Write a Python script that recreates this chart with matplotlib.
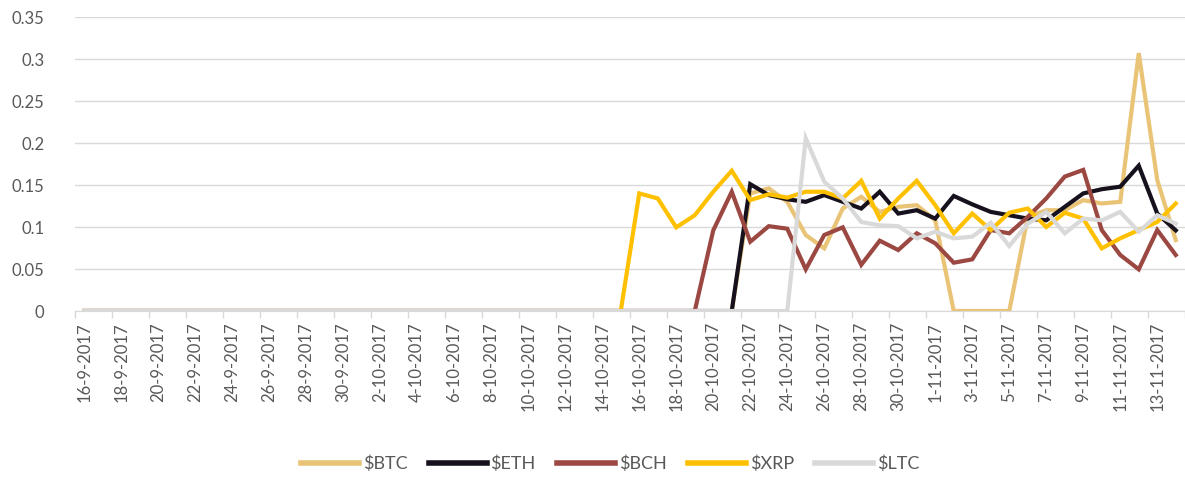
import numpy as np
import pandas as pd
import matplotlib
matplotlib.use("Agg")
from matplotlib import pyplot as plt

plt.rcParams['font.family'] = ['Lato', 'DejaVu Sans']

# daily categories, 16-9-2017 .. 14-11-2017
dates = pd.date_range("2017-09-16", "2017-11-14", freq="D")
labels = [f"{d.day}-{d.month}-{d.year}" for d in dates]

btc = [0] * 36 + [0.140, 0.146, 0.130, 0.0905, 0.0746, 0.122, 0.136, 0.118, 0.124, 0.126,
                  0.108, 0, 0, 0, 0, 0.112, 0.120, 0.120, 0.132, 0.128,
                  0.130, 0.307, 0.156, 0.0845]
eth = [0] * 36 + [0.151, 0.138, 0.133, 0.130, 0.138, 0.130, 0.122, 0.142, 0.116, 0.120,
                  0.110, 0.137, 0.127, 0.118, 0.114, 0.110, 0.108, 0.124, 0.140, 0.145,
                  0.148, 0.173, 0.116, 0.096]
bch = [0] * 34 + [0.096, 0.142, 0.0825, 0.101, 0.098, 0.0496, 0.0905, 0.0996, 0.055, 0.0837,
                  0.0726, 0.0925, 0.0806, 0.0575, 0.0615, 0.0964, 0.0925, 0.112, 0.134, 0.160,
                  0.168, 0.0964, 0.0667, 0.0496, 0.0964, 0.0667]
xrp = [0] * 30 + [0.140, 0.134, 0.0996, 0.114, 0.142, 0.167, 0.132, 0.139, 0.135, 0.142,
                  0.142, 0.134, 0.155, 0.110, 0.134, 0.155, 0.126, 0.0925, 0.116, 0.0964,
                  0.117, 0.122, 0.100, 0.117, 0.110, 0.0746, 0.0865, 0.0964, 0.106, 0.128]
ltc = [0] * 39 + [0.2056, 0.154, 0.134, 0.106, 0.102, 0.101, 0.0865, 0.0944, 0.0865, 0.0885,
                  0.105, 0.0774, 0.104, 0.118, 0.0925, 0.110, 0.108, 0.118, 0.0944, 0.114,
                  0.104]

series = [("$BTC", btc, "#E9C476"),
          ("$ETH", eth, "#16111C"),
          ("$BCH", bch, "#9C4842"),
          ("$XRP", xrp, "#FFC000"),
          ("$LTC", ltc, "#D9D9D9")]

GRID = "#D9D9D9"
TEXT = "#595959"

fig = plt.figure(figsize=(11.85, 4.79), dpi=100)
ax = fig.add_axes([0.0633, 0.3507, 0.9367, 0.6138])

x = np.arange(len(labels))
for name, vals, col in series:
    ax.plot(x, vals, color=col, lw=3, label=name, solid_joinstyle='miter')

ax.set_xlim(-0.5, len(labels) - 0.5)
ax.set_ylim(0, 0.35)
ax.set_yticks(np.arange(0, 0.351, 0.05))
ax.set_yticklabels(["0", "0.05", "0.1", "0.15", "0.2", "0.25", "0.3", "0.35"])
ax.yaxis.grid(True, color=GRID, lw=1)
ax.set_axisbelow(True)

ax.set_xticks(x[::2])
ax.set_xticklabels(labels[::2], rotation=90)
ax.set_xticks(np.arange(-0.5, len(labels), 2), minor=True)
ax.tick_params(axis='x', which='major', length=0, pad=8, labelsize=12, colors=TEXT)
ax.tick_params(axis='x', which='minor', length=5, color=GRID, width=1)
ax.tick_params(axis='y', length=0, pad=22, labelsize=12, colors=TEXT)

for s in ['top', 'right', 'left']:
    ax.spines[s].set_visible(False)
ax.spines['bottom'].set_color(GRID)

leg = fig.legend(loc='lower center', bbox_to_anchor=(0.515, -0.02), ncol=5, frameon=False,
                 handlelength=3.2, columnspacing=1.2, handletextpad=0.2, fontsize=13,
                 labelcolor=TEXT)
for h in leg.get_lines():
    h.set_linewidth(4)

fig.savefig("out.png", dpi=100)
